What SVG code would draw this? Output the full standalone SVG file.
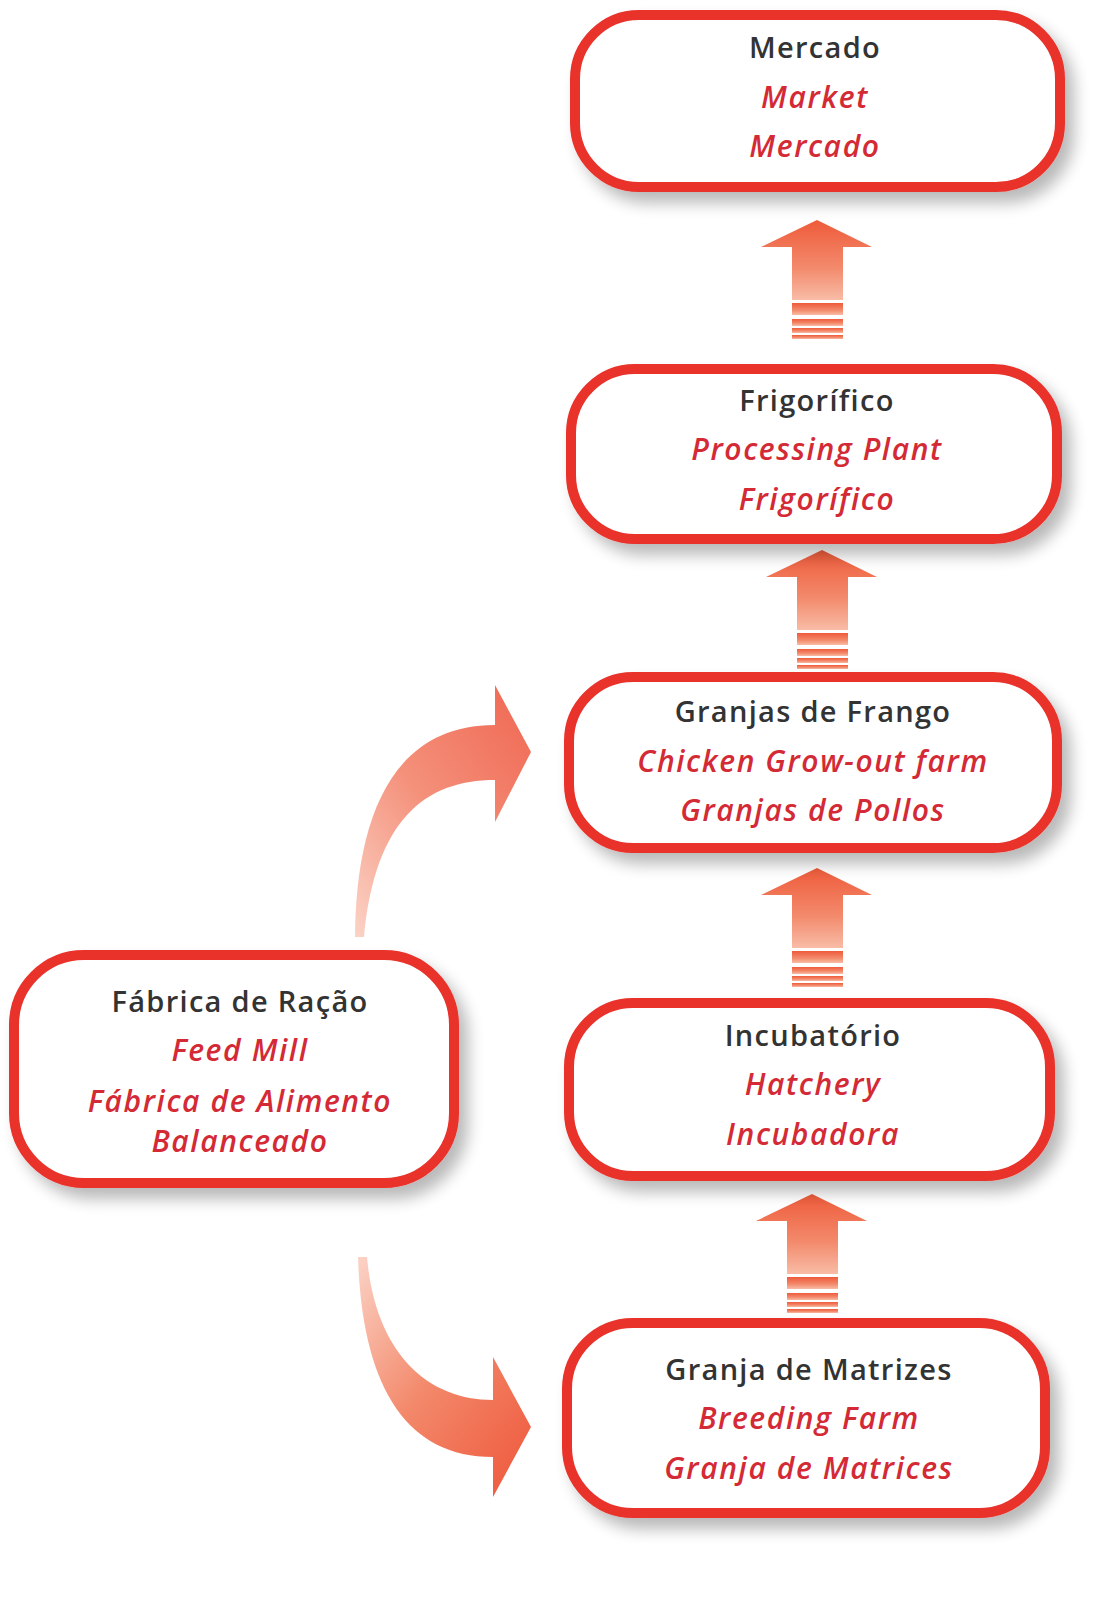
<svg xmlns="http://www.w3.org/2000/svg" xmlns:xlink="http://www.w3.org/1999/xlink" width="1113" height="1611" viewBox="0 0 1113 1611">
<defs>
<style>
.box{fill:#fff;stroke:#e8302a;stroke-width:10;filter:url(#sh)}
.t1{font-family:"Open Sans","Liberation Sans",sans-serif;font-weight:600;font-size:29px;fill:#333;text-anchor:middle;letter-spacing:1.3px}
.t2{font-family:"Open Sans","Liberation Sans",sans-serif;font-weight:600;font-style:italic;font-size:30px;fill:#d42a35;text-anchor:middle;letter-spacing:1.6px}
.arr{fill:url(#gv)}
</style>
<filter id="sh" x="-10%" y="-20%" width="125%" height="150%">
<feGaussianBlur in="SourceAlpha" stdDeviation="8"/>
<feOffset dx="9" dy="11" result="b"/>
<feComponentTransfer><feFuncA type="linear" slope="0.28"/></feComponentTransfer>
<feMerge><feMergeNode/><feMergeNode in="SourceGraphic"/></feMerge>
</filter>
<linearGradient id="gv" x1="0" y1="0" x2="0" y2="1">
<stop offset="0" stop-color="#ee5b3a"/>
<stop offset="0.6" stop-color="#f38a6c"/>
<stop offset="1" stop-color="#f8bca6"/>
</linearGradient>
<linearGradient id="gu" x1="0" y1="1" x2="0.9" y2="0">
<stop offset="0" stop-color="#fbd3c6"/>
<stop offset="0.5" stop-color="#f4907a"/>
<stop offset="1" stop-color="#f06a55"/>
</linearGradient>
<linearGradient id="gd" x1="0" y1="0" x2="0.9" y2="1">
<stop offset="0" stop-color="#fbd3c6"/>
<stop offset="0.5" stop-color="#f3886a"/>
<stop offset="1" stop-color="#ef5a3e"/>
</linearGradient>
<g id="up">
<path class="arr" d="M0 0 L55 27 L26 27 L26 80 L-25 80 L-25 27 L-56 27 Z"/>
<rect class="arr" x="-25" y="83" width="51" height="12"/>
<rect class="arr" x="-25" y="99" width="51" height="7"/>
<rect class="arr" x="-25" y="108" width="51" height="5"/>
<rect class="arr" x="-25" y="115" width="51" height="4"/>
</g>
</defs>
<rect width="1113" height="1611" fill="#fff"/>
<g id="connectors">
<use xlink:href="#up" transform="translate(817,220)"/>
<use xlink:href="#up" transform="translate(822,550)"/>
<use xlink:href="#up" transform="translate(817,868)"/>
<use xlink:href="#up" transform="translate(812,1194)"/>
<path fill="url(#gu)" d="M355 937 C356 830 385 725 495 725 L495 685 L531 752 L495 822 L495 780 C425 780 375 820 364 937 Z"/>
<path fill="url(#gd)" d="M358 1257 C362 1385 405 1457 493 1457 L493 1497 L531 1427 L493 1357 L493 1400 C425 1400 375 1350 367 1257 Z"/>
</g>
<g id="mercado">
<rect class="box" x="575" y="15" width="485" height="172" rx="64"/>
<text class="t1" x="815" y="58">Mercado</text>
<text class="t2" x="815" y="108">Market</text>
<text class="t2" x="815" y="157">Mercado</text>
</g>
<g id="frigorifico">
<rect class="box" x="571" y="369" width="486" height="170" rx="64"/>
<text class="t1" x="817" y="411">Frigorífico</text>
<text class="t2" x="817" y="460">Processing Plant</text>
<text class="t2" x="817" y="510">Frigorífico</text>
</g>
<g id="granjas">
<rect class="box" x="569" y="677" width="488" height="171" rx="64"/>
<text class="t1" x="813" y="722">Granjas de Frango</text>
<text class="t2" x="813" y="772">Chicken Grow-out farm</text>
<text class="t2" x="813" y="821">Granjas de Pollos</text>
</g>
<g id="incubatorio">
<rect class="box" x="569" y="1003" width="481" height="173" rx="64"/>
<text class="t1" x="813" y="1046">Incubatório</text>
<text class="t2" x="813" y="1095">Hatchery</text>
<text class="t2" x="813" y="1145">Incubadora</text>
</g>
<g id="matrizes">
<rect class="box" x="567" y="1323" width="478" height="190" rx="66"/>
<text class="t1" x="809" y="1380">Granja de Matrizes</text>
<text class="t2" x="809" y="1429">Breeding Farm</text>
<text class="t2" x="809" y="1479">Granja de Matrices</text>
</g>
<g id="racao">
<rect class="box" x="14" y="955" width="440" height="228" rx="70"/>
<text class="t1" x="240" y="1012">Fábrica de Ração</text>
<text class="t2" x="240" y="1061">Feed Mill</text>
<text class="t2" x="240" y="1112">Fábrica de Alimento</text>
<text class="t2" x="240" y="1152">Balanceado</text>
</g>
</svg>
